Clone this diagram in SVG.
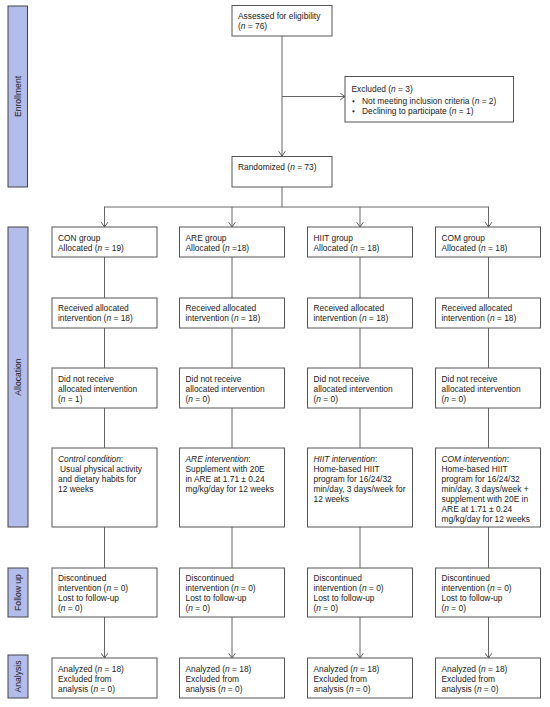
<svg xmlns="http://www.w3.org/2000/svg" width="550" height="707" viewBox="0 0 550 707">
<style>
.box{fill:#fff;stroke:#555;stroke-width:1}
.side{fill:#b3bdec;stroke:#444;stroke-width:1}
.t{font-family:"Liberation Sans",Arial,sans-serif;font-size:8.4px;fill:#222}
.st{font-family:"Liberation Sans",Arial,sans-serif;font-size:8.6px;fill:#222;text-anchor:middle}
.ln{fill:none;stroke:#666;stroke-width:1}
.i{font-style:italic}
</style>
<defs>
<marker id="arr" viewBox="0 0 10 10" refX="10" refY="5" markerWidth="8" markerHeight="8" orient="auto" markerUnits="userSpaceOnUse">
<path d="M4,0.8 L10,5 L4,9.2" fill="none" stroke="#555" stroke-width="1.2"/>
</marker>
</defs>

<g id="sidebars">
<g id="side-enrollment"><rect class="side" x="8" y="6" width="19.5" height="181"/><text class="st" transform="translate(21,96.5) rotate(-90)">Enrollment</text></g>
<g id="side-allocation"><rect class="side" x="8" y="227" width="20" height="300"/><text class="st" transform="translate(21,377) rotate(-90)">Allocation</text></g>
<g id="side-followup"><rect class="side" x="8" y="568" width="20" height="49"/><text class="st" transform="translate(21,592.5) rotate(-90)">Follow up</text></g>
<g id="side-analysis"><rect class="side" x="8" y="655" width="20" height="43"/><text class="st" transform="translate(21,676.5) rotate(-90)">Analysis</text></g>
</g>

<g id="connectors">
<line class="ln" x1="282" y1="36" x2="282" y2="156" marker-end="url(#arr)"/>
<line class="ln" x1="282" y1="96.5" x2="345" y2="96.5" marker-end="url(#arr)"/>
<line class="ln" x1="282" y1="187" x2="282" y2="207"/>
<line class="ln" x1="104.5" y1="207" x2="488.5" y2="207"/>
<line class="ln" x1="104.5" y1="206.5" x2="104.5" y2="227" marker-end="url(#arr)"/>
<line class="ln" x1="232" y1="207" x2="232" y2="227" marker-end="url(#arr)"/>
<line class="ln" x1="360" y1="207" x2="360" y2="227" marker-end="url(#arr)"/>
<line class="ln" x1="488.5" y1="206.5" x2="488.5" y2="227" marker-end="url(#arr)"/>
<g id="col-lines">
<path class="ln" d="M104.5,257 V298 M104.5,328 V368 M104.5,408 V448 M104.5,527 V568"/>
<path class="ln" d="M232,257 V298 M232,328 V368 M232,408 V448 M232,527 V568"/>
<path class="ln" d="M360,257 V298 M360,328 V368 M360,408 V448 M360,527 V568"/>
<path class="ln" d="M488.5,257 V298 M488.5,328 V368 M488.5,408 V448 M488.5,527 V568"/>
</g>
<line class="ln" x1="104.5" y1="617" x2="104.5" y2="658" marker-end="url(#arr)"/>
<line class="ln" x1="232" y1="617" x2="232" y2="658" marker-end="url(#arr)"/>
<line class="ln" x1="360" y1="617" x2="360" y2="658" marker-end="url(#arr)"/>
<line class="ln" x1="488.5" y1="617" x2="488.5" y2="658" marker-end="url(#arr)"/>
</g>

<g id="assessed"><rect class="box" x="232" y="5.5" width="100" height="30.5"/>
<text class="t" x="238" y="19">Assessed for eligibility</text>
<text class="t" x="238" y="29">(<tspan class="i">n</tspan> = 76)</text></g>

<g id="excluded"><rect class="box" x="345" y="76.5" width="168.5" height="45.5"/>
<text class="t" x="351.5" y="92">Excluded (<tspan class="i">n</tspan> = 3)</text>
<circle cx="353.5" cy="101.3" r="1.1" fill="#222"/>
<text class="t" x="362" y="104">Not meeting inclusion criteria (<tspan class="i">n</tspan> = 2)</text>
<circle cx="353.5" cy="111.3" r="1.1" fill="#222"/>
<text class="t" x="362" y="114">Declining to participate (<tspan class="i">n</tspan> = 1)</text></g>

<g id="randomized"><rect class="box" x="232" y="156.5" width="100" height="30.5"/>
<text class="t" x="238" y="169.5">Randomized (<tspan class="i">n</tspan> = 73)</text></g>

<!-- CON column -->
<g id="con-alloc"><rect class="box" x="52" y="227" width="105" height="30"/>
<text class="t" x="58" y="240.5">CON group</text><text class="t" x="58" y="250.5">Allocated (<tspan class="i">n</tspan> = 19)</text></g>
<g id="con-recv"><rect class="box" x="52" y="298" width="105" height="30"/>
<text class="t" x="58" y="311">Received allocated</text><text class="t" x="58" y="321">intervention (<tspan class="i">n</tspan> = 18)</text></g>
<g id="con-notrecv"><rect class="box" x="52" y="368" width="105" height="40"/>
<text class="t" x="58" y="381.5">Did not receive</text><text class="t" x="58" y="391.5">allocated intervention</text><text class="t" x="58" y="401.5">(<tspan class="i">n</tspan> = 1)</text></g>
<g id="con-int"><rect class="box" x="52" y="448" width="105" height="79"/>
<text class="t" x="58" y="462"><tspan class="i">Control condition</tspan>:</text>
<text class="t" x="60" y="472">Usual physical activity</text>
<text class="t" x="58" y="482">and dietary habits for</text>
<text class="t" x="58" y="492">12 weeks</text></g>
<g id="con-fu"><rect class="box" x="52" y="568" width="105" height="49"/>
<text class="t" x="58" y="580.5">Discontinued</text><text class="t" x="58" y="590.5">intervention (<tspan class="i">n</tspan> = 0)</text><text class="t" x="58" y="600.5">Lost to follow-up</text><text class="t" x="58" y="610.5">(<tspan class="i">n</tspan> = 0)</text></g>
<g id="con-an"><rect class="box" x="52" y="658" width="105" height="40"/>
<text class="t" x="58" y="672">Analyzed (<tspan class="i">n</tspan> = 18)</text><text class="t" x="58" y="682">Excluded from</text><text class="t" x="58" y="692">analysis (<tspan class="i">n</tspan> = 0)</text></g>

<!-- ARE column -->
<g id="are-alloc"><rect class="box" x="179.5" y="227" width="105" height="30"/>
<text class="t" x="185.5" y="240.5">ARE group</text><text class="t" x="185.5" y="250.5">Allocated (<tspan class="i">n</tspan> =18)</text></g>
<g id="are-recv"><rect class="box" x="179.5" y="298" width="105" height="30"/>
<text class="t" x="185.5" y="311">Received allocated</text><text class="t" x="185.5" y="321">intervention (<tspan class="i">n</tspan> = 18)</text></g>
<g id="are-notrecv"><rect class="box" x="179.5" y="368" width="105" height="40"/>
<text class="t" x="185.5" y="381.5">Did not receive</text><text class="t" x="185.5" y="391.5">allocated intervention</text><text class="t" x="185.5" y="401.5">(<tspan class="i">n</tspan> = 0)</text></g>
<g id="are-int"><rect class="box" x="179.5" y="448" width="105" height="79"/>
<text class="t" x="185.5" y="462"><tspan class="i">ARE intervention</tspan>:</text>
<text class="t" x="185.5" y="472">Supplement with 20E</text>
<text class="t" x="185.5" y="482">in ARE at 1.71 ± 0.24</text>
<text class="t" x="185.5" y="492">mg/kg/day for 12 weeks</text></g>
<g id="are-fu"><rect class="box" x="179.5" y="568" width="105" height="49"/>
<text class="t" x="185.5" y="580.5">Discontinued</text><text class="t" x="185.5" y="590.5">intervention (<tspan class="i">n</tspan> = 0)</text><text class="t" x="185.5" y="600.5">Lost to follow-up</text><text class="t" x="185.5" y="610.5">(<tspan class="i">n</tspan> = 0)</text></g>
<g id="are-an"><rect class="box" x="179.5" y="658" width="105" height="40"/>
<text class="t" x="185.5" y="672">Analyzed (<tspan class="i">n</tspan> = 18)</text><text class="t" x="185.5" y="682">Excluded from</text><text class="t" x="185.5" y="692">analysis (<tspan class="i">n</tspan> = 0)</text></g>

<!-- HIIT column -->
<g id="hiit-alloc"><rect class="box" x="307.5" y="227" width="105" height="30"/>
<text class="t" x="313.5" y="240.5">HIIT group</text><text class="t" x="313.5" y="250.5">Allocated (<tspan class="i">n</tspan> = 18)</text></g>
<g id="hiit-recv"><rect class="box" x="307.5" y="298" width="105" height="30"/>
<text class="t" x="313.5" y="311">Received allocated</text><text class="t" x="313.5" y="321">intervention (<tspan class="i">n</tspan> = 18)</text></g>
<g id="hiit-notrecv"><rect class="box" x="307.5" y="368" width="105" height="40"/>
<text class="t" x="313.5" y="381.5">Did not receive</text><text class="t" x="313.5" y="391.5">allocated intervention</text><text class="t" x="313.5" y="401.5">(<tspan class="i">n</tspan> = 0)</text></g>
<g id="hiit-int"><rect class="box" x="307.5" y="448" width="105" height="79"/>
<text class="t" x="313.5" y="462"><tspan class="i">HIIT intervention</tspan>:</text>
<text class="t" x="313.5" y="472">Home-based HIIT</text>
<text class="t" x="313.5" y="482">program for 16/24/32</text>
<text class="t" x="313.5" y="492">min/day, 3 days/week for</text>
<text class="t" x="313.5" y="502">12 weeks</text></g>
<g id="hiit-fu"><rect class="box" x="307.5" y="568" width="105" height="49"/>
<text class="t" x="313.5" y="580.5">Discontinued</text><text class="t" x="313.5" y="590.5">intervention (<tspan class="i">n</tspan> = 0)</text><text class="t" x="313.5" y="600.5">Lost to follow-up</text><text class="t" x="313.5" y="610.5">(<tspan class="i">n</tspan> = 0)</text></g>
<g id="hiit-an"><rect class="box" x="307.5" y="658" width="105" height="40"/>
<text class="t" x="313.5" y="672">Analyzed (<tspan class="i">n</tspan> = 18)</text><text class="t" x="313.5" y="682">Excluded from</text><text class="t" x="313.5" y="692">analysis (<tspan class="i">n</tspan> = 0)</text></g>

<!-- COM column -->
<g id="com-alloc"><rect class="box" x="435.5" y="227" width="105" height="30"/>
<text class="t" x="441.5" y="240.5">COM group</text><text class="t" x="441.5" y="250.5">Allocated (<tspan class="i">n</tspan> = 18)</text></g>
<g id="com-recv"><rect class="box" x="435.5" y="298" width="105" height="30"/>
<text class="t" x="441.5" y="311">Received allocated</text><text class="t" x="441.5" y="321">intervention (<tspan class="i">n</tspan> = 18)</text></g>
<g id="com-notrecv"><rect class="box" x="435.5" y="368" width="105" height="40"/>
<text class="t" x="441.5" y="381.5">Did not receive</text><text class="t" x="441.5" y="391.5">allocated intervention</text><text class="t" x="441.5" y="401.5">(<tspan class="i">n</tspan> = 0)</text></g>
<g id="com-int"><rect class="box" x="435.5" y="448" width="105" height="79"/>
<text class="t" x="441.5" y="462"><tspan class="i">COM intervention</tspan>:</text>
<text class="t" x="441.5" y="472">Home-based HIIT</text>
<text class="t" x="441.5" y="482">program for 16/24/32</text>
<text class="t" x="441.5" y="492">min/day, 3 days/week +</text>
<text class="t" x="441.5" y="502">supplement with 20E in</text>
<text class="t" x="441.5" y="512">ARE at 1.71 ± 0.24</text>
<text class="t" x="441.5" y="522">mg/kg/day for 12 weeks</text></g>
<g id="com-fu"><rect class="box" x="435.5" y="568" width="105" height="49"/>
<text class="t" x="441.5" y="580.5">Discontinued</text><text class="t" x="441.5" y="590.5">intervention (<tspan class="i">n</tspan> = 0)</text><text class="t" x="441.5" y="600.5">Lost to follow-up</text><text class="t" x="441.5" y="610.5">(<tspan class="i">n</tspan> = 0)</text></g>
<g id="com-an"><rect class="box" x="435.5" y="658" width="105" height="40"/>
<text class="t" x="441.5" y="672">Analyzed (<tspan class="i">n</tspan> = 18)</text><text class="t" x="441.5" y="682">Excluded from</text><text class="t" x="441.5" y="692">analysis (<tspan class="i">n</tspan> = 0)</text></g>
</svg>
